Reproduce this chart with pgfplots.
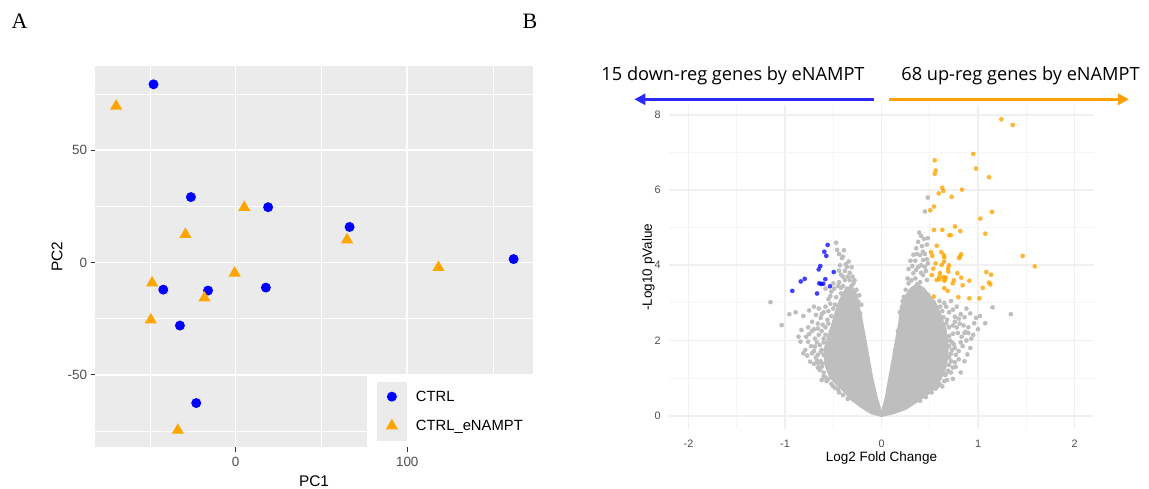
\documentclass[border=0pt]{standalone}
\usepackage{fontspec}
\setmainfont{Liberation Sans}
\newfontfamily\panelfont{Liberation Serif}
\newfontfamily\annfont{Open Sans}
\usepackage{pgfplots}
\pgfplotsset{compat=1.18}
\usetikzlibrary{arrows.meta}
\definecolor{ggbg}{RGB}{235,235,235}
\definecolor{gg30}{RGB}{77,77,77}
\definecolor{gg20}{RGB}{51,51,51}
\definecolor{ptgray}{RGB}{190,190,190}
\definecolor{ggorange}{RGB}{255,165,0}
\definecolor{arrblue}{RGB}{40,40,255}
\definecolor{arrorange}{RGB}{255,160,0}
\definecolor{majgrid}{RGB}{240,240,240}
\definecolor{mingrid}{RGB}{245,245,245}
\pgfplotsset{ggkey/.style={legend image code/.code={%
  \fill[ggbg] (-14.5pt,-14.35pt) rectangle (14.5pt,14.35pt);
  \draw[##1] plot coordinates {(0pt,0pt)};}}}
\begin{document}
\begin{tikzpicture}
\useasboundingbox (0pt,0pt) rectangle (1149pt,488pt);
\node[font=\panelfont\fontsize{22}{22}\selectfont] at (19.6pt,466.3pt) {A};
\node[font=\panelfont\fontsize{22}{22}\selectfont] at (530pt,466.3pt) {B};
% ---------------- Panel A ----------------
\begin{axis}[
  at={(95pt,40.7pt)}, anchor=south west, scale only axis,
  width=438pt, height=381.6pt,
  xmin=-82, xmax=173.3, ymin=-82.3, ymax=87.6,
  axis background/.style={fill=ggbg},
  axis line style={draw=none},
  xtick={0,100}, xticklabels={0,100},
  ytick={-50,0,50}, yticklabels={-50,0,50},
  minor xtick={-50,50,150}, minor ytick={-75,-25,25,75},
  grid=both,
  major grid style={white, line width=1.5pt},
  minor grid style={white, line width=0.75pt},
  tick align=outside, tick pos=left,
  major tick length=4.5pt, minor tick length=0pt,
  every tick/.style={gg20, line width=1pt},
  xticklabel style={yshift=-2pt, font=\fontsize{13.4}{13.4}\selectfont, text=gg30},
  yticklabel style={font=\fontsize{13.4}{13.4}\selectfont, text=gg30},
  xlabel={PC1}, ylabel={PC2},
  every axis x label/.style={at={(axis description cs:0.5,-0.0883)}, anchor=center, font=\fontsize{15.4}{15.4}\selectfont},
  every axis y label/.style={at={(axis description cs:-0.0868,0.5)}, anchor=center, rotate=90, font=\fontsize{15.4}{15.4}\selectfont},
  legend style={at={(1,0)}, anchor=south east, fill=white, draw=none,
    inner xsep=10pt, inner ysep=6.8pt, row sep=0pt, column sep=9.3pt,
    nodes={inner xsep=0pt, inner ysep=0pt},
    font=\fontsize{14.8}{14.8}\selectfont},
  legend cell align=left,
]
\addplot[only marks, color=blue, mark=*, mark size=5pt, mark options={draw opacity=0, fill=blue}, ggkey] coordinates {
 (-47.9,79.3) (-26.1,29.1) (18.9,24.6) (66.4,15.8) (162,1.5)
 (-42.2,-12.1) (-16.1,-12.5) (17.6,-11.2) (-32.5,-28.1) (-23,-62.6)
};
\addlegendentry{CTRL}
\addplot[only marks, color=ggorange, mark=triangle*, mark size=7pt, mark options={draw opacity=0, fill=ggorange}, ggkey] coordinates {
 (-69.7,69.6) (5,24.5) (-29.3,12.5) (64.9,10.1) (118.2,-2.2)
 (-0.6,-4.7) (-48.7,-9.1) (-18.2,-15.8) (-49.5,-25.6) (-33.7,-74.7)
};
\addlegendentry{CTRL\_eNAMPT}
\end{axis}
% ---------------- Panel B ----------------
\draw[arrblue, line width=3.5pt, -{Triangle[length=11pt,width=11pt]}] (873.7pt,388.7pt) -- (634.4pt,388.7pt);
\draw[arrorange, line width=3.5pt, -{Triangle[length=11pt,width=11pt]}] (889pt,388.7pt) -- (1129pt,388.7pt);
\node[font=\annfont\fontsize{18.2}{18.2}\selectfont] at (733pt,412pt) {15 down-reg genes by eNAMPT};
\node[font=\annfont\fontsize{18.2}{18.2}\selectfont] at (1020.5pt,412pt) {68 up-reg genes by eNAMPT};
\begin{axis}[
  at={(669.2pt,58.7pt)}, anchor=south west, scale only axis,
  width=424.6pt, height=324.3pt,
  xmin=-2.2, xmax=2.2, ymin=-0.36, ymax=8.26,
  axis line style={draw=none},
  xtick={-2,-1,0,1,2}, xticklabels={-2,-1,0,1,2},
  ytick={0,2,4,6,8}, yticklabels={0,2,4,6,8},
  minor xtick={-1.5,-0.5,0.5,1.5}, minor ytick={1,3,5,7},
  grid=both,
  major grid style={majgrid, line width=1.6pt},
  minor grid style={mingrid, line width=1pt},
  major tick length=0pt, minor tick length=0pt,
  xticklabel style={anchor=center, yshift=-14pt, font=\fontsize{10.8}{10.8}\selectfont, text=gg30},
  yticklabel style={anchor=east, xshift=-5pt, font=\fontsize{10.8}{10.8}\selectfont, text=gg30},
  xlabel={Log2 Fold Change}, ylabel={-Log10 pValue},
  every axis x label/.style={at={(axis description cs:0.5,-0.0894)}, anchor=center, font=\fontsize{13.5}{13.5}\selectfont},
  every axis y label/.style={at={(axis description cs:-0.0492,0.5)}, anchor=center, rotate=90, font=\fontsize{13.5}{13.5}\selectfont},
]
% dense core of the non-significant genes (left arm)
\addplot[fill=ptgray, draw=ptgray, line width=4.7pt, line join=round, line cap=round, mark=none] coordinates {
 (0,0.03) (-0.1,0.1) (-0.2,0.26) (-0.3,0.45) (-0.38,0.68) (-0.46,0.88) (-0.52,1.05)
 (-0.56,1.3) (-0.575,1.55) (-0.57,1.8) (-0.54,2.1) (-0.5,2.4) (-0.46,2.75) (-0.42,3.05)
 (-0.37,3.3) (-0.32,3.4) (-0.27,3.2) (-0.25,2.9) (-0.215,2.5) (-0.18,2.0) (-0.145,1.5)
 (-0.11,1.0) (-0.065,0.5) (-0.02,0.1) (0,0.03)
};
% dense core (right arm)
\addplot[fill=ptgray, draw=ptgray, line width=4.7pt, line join=round, line cap=round, mark=none] coordinates {
 (0,0.03) (0.12,0.1) (0.24,0.21) (0.35,0.39) (0.5,0.66) (0.6,1.0) (0.65,1.3) (0.67,1.6)
 (0.67,1.95) (0.65,2.3) (0.6,2.65) (0.55,2.95) (0.49,3.15) (0.43,3.35) (0.37,3.45)
 (0.31,3.35) (0.26,3.15) (0.215,2.9) (0.2,2.5) (0.164,2.0) (0.13,1.5) (0.094,1.0)
 (0.06,0.5) (0.02,0.1) (0,0.03)
};
% scattered non-significant genes
\addplot[only marks, color=ptgray, mark=*, mark size=2.35pt, mark options={draw opacity=0, fill=ptgray}] coordinates {
 (-1.15,3.02) (-1.035,2.41) (-0.955,2.70) (-0.89,2.75) (-0.81,2.65) (-0.86,2.10)
 (-0.78,2.10) (-0.83,2.28) (-0.84,1.97) (-0.76,1.97) (-0.75,2.17) (-0.81,1.66)
 (-0.72,1.66) (-0.79,1.75) (-0.74,1.44) (-0.69,1.84) (-0.655,1.39) (-0.64,1.22)
 (-0.62,0.95) (-0.68,1.55) (-0.70,2.3) (-0.66,2.45) (-0.63,2.6) (-0.72,2.5)
 (-0.6,2.75) (-0.58,2.9) (-0.65,2.85) (-0.55,3.1) (-0.52,3.30) (-0.58,3.38)
 (-0.50,3.52) (-0.45,3.45) (-0.38,3.61) (-0.44,3.86) (-0.40,3.70) (-0.33,3.80)
 (-0.31,3.95) (-0.36,3.96) (-0.29,3.52) (-0.34,3.25) (-0.28,3.60) (-0.24,3.03)
 (-0.22,2.72) (-0.37,4.03) (-0.41,4.19) (-0.40,4.23) (-0.46,4.41) (-0.47,4.60)
 (-0.62,1.75) (-0.6,2.05) (-0.65,2.15) (-0.56,2.55) (-0.48,2.95) (-0.42,3.4)
 (-0.60,1.05) (-0.57,0.92) (-0.50,0.78) (-0.44,0.62) (-0.35,0.45)
 (-0.40,0.55) (-0.45,0.70) (-0.52,0.85) (-0.55,0.98) (-0.48,0.74) (-0.58,1.02)
 (-0.60,1.15) (-0.62,1.30) (-0.63,1.45) (-0.66,1.28) (-0.61,1.38) (-0.67,1.47) (-0.70,1.38)
 (-0.60,1.62) (-0.63,1.70) (-0.66,1.62) (-0.70,1.72) (-0.64,1.88) (-0.60,1.95)
 (-0.67,1.95) (-0.73,1.85) (-0.77,1.60)
 (-0.58,2.15) (-0.62,2.25) (-0.58,2.35) (-0.66,2.32) (-0.55,2.45) (-0.69,2.05)
 (-0.72,2.25) (-0.61,2.42) (-0.76,2.35)
 (-0.52,2.65) (-0.55,2.78) (-0.50,2.85) (-0.62,2.70) (-0.68,2.68) (-0.53,2.98)
 (-0.70,2.90) (-0.75,2.80)
 (-0.47,3.15) (-0.42,3.25) (-0.49,3.38) (-0.44,3.55) (-0.40,3.45) (-0.36,3.38)
 (-0.31,3.45) (-0.26,3.35) (-0.23,3.20) (-0.21,2.95) (-0.33,3.60) (-0.53,3.18)
 (-0.35,3.70) (-0.30,3.70) (-0.42,3.75) (-0.38,3.85) (-0.34,4.10) (-0.43,4.0)
 (-0.44,4.3) (-0.39,4.4)
 (-0.20,2.2) (-0.22,2.45) (-0.17,1.75) (-0.13,1.25) (-0.09,0.75)
 (1.34,2.70) (1.15,2.88) (1.075,2.46) (1.02,2.65) (0.96,2.46) (0.89,1.63)
 (0.87,2.23) (0.93,2.05) (0.85,2.4) (0.82,2.7) (0.78,2.9) (0.75,1.9) (0.8,1.5)
 (0.77,1.3) (0.72,1.15) (0.68,0.95) (0.63,0.78) (0.9,2.2) (0.95,2.15) (1.0,2.3)
 (0.84,1.85) (0.88,2.0) (0.7,2.75) (0.65,3.0) (0.72,3.05) (0.76,2.63) (0.68,2.55)
 (0.61,2.90) (0.57,2.72) (0.50,2.90) (0.485,3.21) (0.43,3.34) (0.31,3.34)
 (0.23,3.16) (0.37,3.50) (0.28,3.52) (0.47,3.61) (0.43,3.74) (0.33,3.79)
 (0.45,3.96) (0.38,3.96) (0.47,4.16) (0.43,4.14) (0.30,4.12) (0.35,4.12)
 (0.40,4.27) (0.43,4.36) (0.42,4.51) (0.39,4.87) (0.48,4.72) (0.45,5.43)
 (0.48,5.80) (0.36,4.45) (0.46,3.85) (0.92,1.8) (0.86,1.45) (0.82,1.15)
 (0.74,0.98) (0.98,2.6) (0.73,1.75) (0.71,2.0) (0.79,2.2) (0.74,2.4)
 (0.40,0.40) (0.46,0.50) (0.52,0.62) (0.56,0.72) (0.60,0.85) (0.65,0.92) (0.58,0.78)
 (0.66,1.08) (0.69,1.20) (0.70,1.35) (0.74,1.28) (0.72,1.45) (0.76,1.42) (0.67,1.12)
 (0.70,1.55) (0.72,1.65) (0.77,1.62) (0.70,1.85) (0.76,1.80) (0.80,1.72) (0.73,1.95) (0.82,1.95)
 (0.70,2.12) (0.74,2.18) (0.70,2.35) (0.78,2.35) (0.83,2.10) (0.67,2.45) (0.76,2.50)
 (0.86,2.20) (0.81,2.45) (0.90,2.35)
 (0.64,2.62) (0.63,2.78) (0.58,2.88) (0.67,2.90) (0.74,2.82) (0.80,2.58) (0.86,2.62)
 (0.88,2.85) (0.92,2.72) (0.54,3.02) (0.60,3.05)
 (0.25,3.35) (0.22,3.05) (0.27,3.65) (0.31,3.60) (0.35,3.65) (0.40,3.55) (0.41,3.80)
 (0.36,3.88) (0.32,3.98) (0.28,3.90) (0.41,4.00) (0.48,4.05) (0.33,4.28) (0.37,4.30)
 (0.45,4.30) (0.47,4.55) (0.38,4.62) (0.44,4.70) (0.41,4.78)
 (0.19,2.75) (0.17,2.25) (0.14,1.75) (0.11,1.25) (0.075,0.75)
};
% down-regulated genes
\addplot[only marks, color=blue, mark=*, mark size=2.35pt, mark options={draw opacity=0, fill=blue, fill opacity=0.75}] coordinates {
 (-0.558,4.54) (-0.593,4.36) (-0.572,4.25) (-0.634,3.98) (-0.651,3.89)
 (-0.495,3.82) (-0.796,3.64) (-0.837,3.57) (-0.582,3.63) (-0.624,3.50)
 (-0.603,3.51) (-0.534,3.44) (-0.924,3.32) (-0.668,3.25) (-0.645,3.52)
};
% up-regulated genes
\addplot[only marks, color=ggorange, mark=*, mark size=2.35pt, mark options={draw opacity=0, fill=ggorange, fill opacity=0.8}] coordinates {
 (1.242,7.88) (1.360,7.73) (0.951,6.96) (0.551,6.79) (0.561,6.52) (0.551,6.43)
 (0.979,6.57) (1.114,6.34) (0.630,6.06) (0.641,5.98) (0.593,5.91) (0.834,6.01)
 (0.727,5.82) (0.544,5.56) (0.506,5.46) (1.145,5.42) (1.024,5.24)
 (0.762,5.03) (0.544,4.94) (0.630,4.94) (0.703,4.80) (0.717,4.80) (0.817,4.91)
 (1.076,4.84) (0.572,4.52) (0.513,4.35) (0.527,4.25) (0.620,4.35) (0.645,4.27)
 (0.651,4.21) (0.824,4.29) (0.813,4.23) (0.803,4.19) (0.648,4.10) (0.624,4.01)
 (1.463,4.25) (1.588,3.97) (0.689,3.92) (0.537,3.91) (0.606,3.79) (0.692,3.83)
 (0.523,3.74) (0.572,3.61) (0.599,3.63) (0.641,3.68) (0.665,3.68) (0.651,3.59)
 (0.786,3.79) (0.827,3.67) (0.738,3.52) (0.841,3.47) (0.910,3.59) (1.086,3.82)
 (1.135,3.75) (1.114,3.54) (1.128,3.49) (0.651,3.39) (0.686,3.32) (1.049,3.40)
 (0.541,3.17) (0.796,3.15) (0.910,3.12) (1.014,3.12)
 (0.60,3.70) (0.66,3.62) (0.56,4.05) (0.70,4.00) (0.75,3.60)
};
\end{axis}
\end{tikzpicture}
\end{document}
